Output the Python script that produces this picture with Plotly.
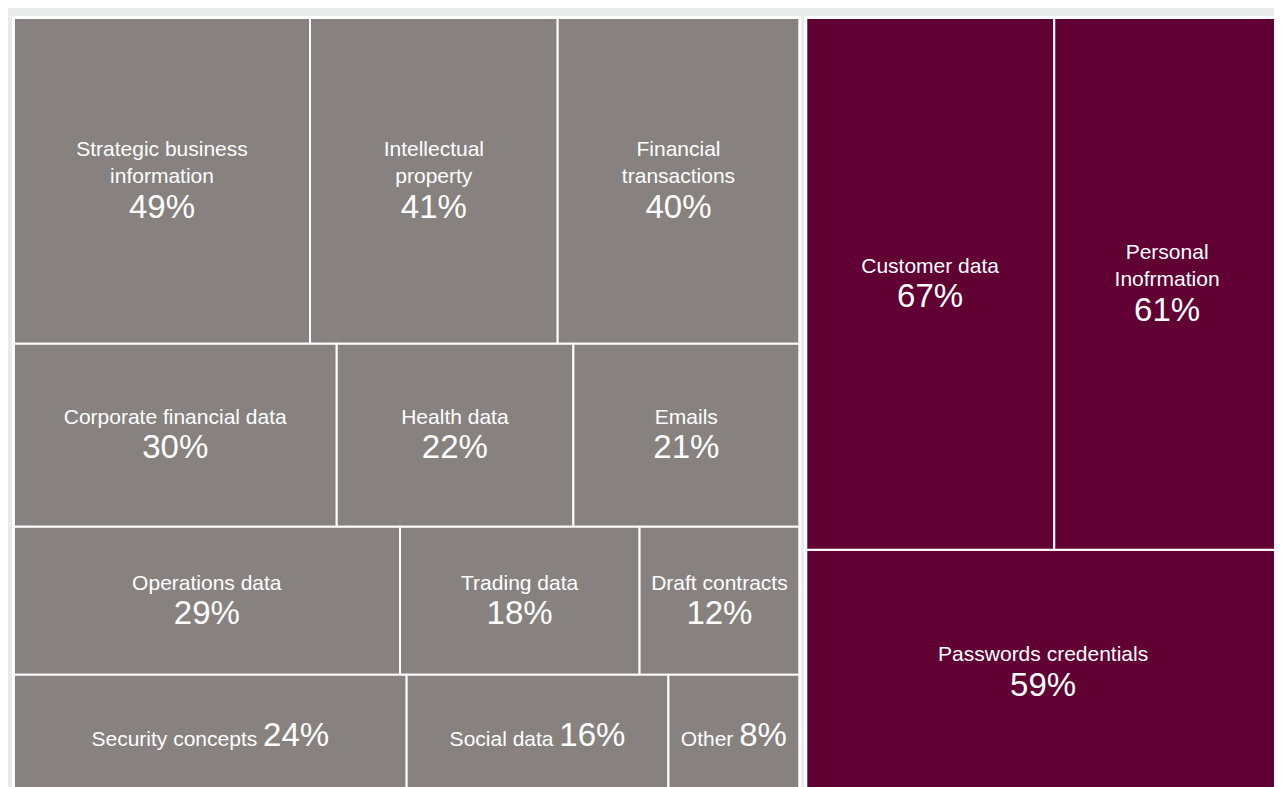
import plotly.graph_objects as go

# ---- data -------------------------------------------------------------
high_labels = ["Customer data", "Personal<br>Inofrmation", "Passwords credentials"]
high_values = [67, 61, 59]
high_rows = [0, 0, 1]

low_labels = [
    "Strategic business<br>information", "Intellectual<br>property", "Financial<br>transactions",
    "Corporate financial data", "Health data", "Emails",
    "Operations data", "Trading data", "Draft contracts",
    "Security concepts", "Social data", "Other",
]
low_values = [49, 41, 40, 30, 22, 21, 29, 18, 12, 24, 16, 8]
low_rows = [0, 0, 0, 1, 1, 1, 2, 2, 2, 3, 3, 3]
low_inline_rows = [3]

GRAY = "#87827f"
MAROON = "#600033"
BG = "#e9ebeb"
PCT_SIZE = 33


def build(prefix, labels, values, rows, color, inline_rows):
    ids, parents, vals, texts, colors, widths = [prefix], [""], [0], [""], [color], [4]
    for r in sorted(set(rows)):
        members = [i for i, rr in enumerate(rows) if rr == r]
        if len(members) > 1:
            rid = f"{prefix}-row{r}"
            ids.append(rid); parents.append(prefix); vals.append(0)
            texts.append(""); colors.append(color); widths.append(0)
            par = rid
        else:
            par = prefix
        for i in members:
            if r in inline_rows:
                pct = f" <span style='font-size:{PCT_SIZE}px'>{values[i]}%</span>"
            else:
                pct = (f"<br><span style='font-size:{PCT_SIZE}px;baseline-shift:-7px'>"
                       f"{values[i]}%</span>")
            ids.append(f"{prefix}-{i}")
            parents.append(par)
            vals.append(values[i])
            texts.append(f"{labels[i]}{pct}")
            colors.append(color)
            widths.append(2)
    return ids, parents, vals, texts, colors, widths


total_low = sum(low_values)
total_high = sum(high_values)
frac = total_low / (total_low + total_high)
gap = 7 / 1266

fig = go.Figure()
for (prefix, labels, values, rows, color, inline, dom) in [
    ("low", low_labels, low_values, low_rows, GRAY, low_inline_rows, [0, frac * (1 - gap)]),
    ("high", high_labels, high_values, high_rows, MAROON, [], [frac * (1 - gap) + gap, 1]),
]:
    ids, parents, vals, texts, colors, widths = build(prefix, labels, values, rows, color, inline)
    fig.add_trace(go.Treemap(
        ids=ids, labels=ids, parents=parents, values=vals, text=texts,
        branchvalues="remainder", sort=False,
        tiling=dict(packing="dice-slice", pad=0),
        marker=dict(colors=colors, line=dict(color="white", width=widths),
                    pad=dict(t=0, l=0, r=0, b=0), depthfade=False),
        pathbar=dict(visible=False),
        texttemplate="%{text}",
        hovertemplate="%{text}<extra></extra>",
        textposition="middle center",
        textfont=dict(family="Liberation Sans, Arial, sans-serif", size=21, color="white"),
        domain=dict(x=dom, y=[0, 1]),
    ))

fig.update_layout(
    width=1274, height=787,
    margin=dict(l=6, r=2, t=10, b=0),
    paper_bgcolor=BG,
    uniformtext=dict(minsize=21, mode="show"),
)

fig.write_html("out.html")
